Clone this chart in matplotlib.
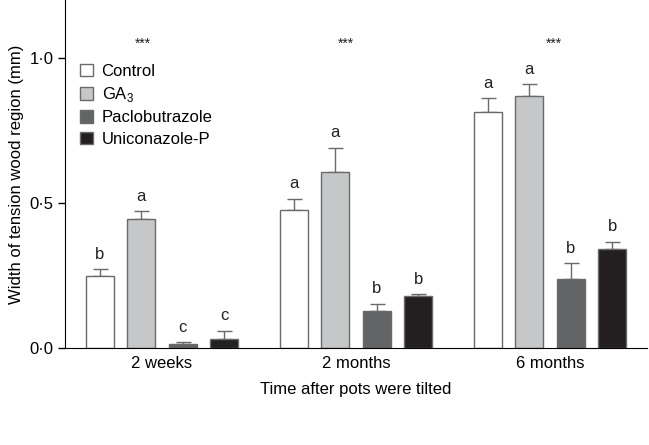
import matplotlib
matplotlib.use("Agg")
import matplotlib.pyplot as plt
import numpy as np

plt.rcParams['font.family'] = ['Liberation Sans', 'DejaVu Sans']
plt.rcParams['mathtext.fontset'] = 'custom'
plt.rcParams['mathtext.rm'] = 'Liberation Sans'

# data
groups = ["2 weeks", "2 months", "6 months"]
treatments = ["Control", r"GA$_\mathrm{3}$", "Paclobutrazole", "Uniconazole-P"]
means = np.array([[0.248, 0.476, 0.814],
                  [0.445, 0.607, 0.869],
                  [0.014, 0.128, 0.238],
                  [0.031, 0.179, 0.341]])
errs = np.array([[0.024, 0.038, 0.048],
                 [0.027, 0.083, 0.041],
                 [0.006, 0.024, 0.055],
                 [0.028, 0.007, 0.025]])
letters = [["b", "a", "a"],
           ["a", "a", "a"],
           ["c", "b", "b"],
           ["c", "b", "b"]]
stars = ["***", "***", "***"]

colors = ["white", "#c6c7c9", "#636466", "#231f20"]
edge = "#6a6a6a"

fig = plt.figure(figsize=(6.49, 4.45), dpi=100)
ax = fig.add_axes([0.100, 0.218, 0.897, 0.782])

x = np.arange(len(groups))
step = 0.2134
width = 0.145
for i in range(len(treatments)):
	pos = x + (i - 1.5) * step
	ax.bar(pos, means[i], width, color=colors[i], edgecolor=edge, linewidth=1.0,
		label=treatments[i], zorder=2)
	ax.errorbar(pos, means[i], yerr=[np.zeros(3), errs[i]], fmt='none',
		ecolor=edge, elinewidth=1.0, capsize=5.4, capthick=1.0, zorder=1)
	for j in range(len(groups)):
		ax.annotate(letters[i][j], (pos[j], means[i][j] + errs[i][j]),
			xytext=(0, 15), textcoords='offset pixels', ha='center', va='center',
			fontsize=12, color='#222222')

star_off = [-0.1, -0.05, 0.02]
for j in range(len(groups)):
	ax.text(x[j] + star_off[j], 1.05, stars[j], ha='center', va='center',
		fontsize=10, color='#222222')

ax.set_xlim(-0.5, 2.5)
ax.set_ylim(0, 1.2)
ax.set_xticks(x)
ax.set_xticklabels(groups, fontsize=12)
ax.tick_params(axis='x', length=0, pad=6)
ax.set_yticks([0, 0.5, 1.0])
ax.set_yticklabels(["0·0", "0·5", "1·0"], fontsize=12)
ax.tick_params(axis='y', length=5, direction='out', width=1, pad=3)
ax.spines['top'].set_visible(False)
ax.spines['right'].set_visible(False)
ax.set_xlabel("Time after pots were tilted", fontsize=12, labelpad=8)
ax.set_ylabel("Width of tension wood region (mm)", fontsize=12, labelpad=4)

leg = ax.legend(loc='upper left', bbox_to_anchor=(0.0, 0.86), frameon=False,
	fontsize=12, handlelength=0.8, handleheight=0.8, handletextpad=0.5,
	labelspacing=0.37, borderaxespad=0.5)

fig.savefig("out.png", dpi=100)
